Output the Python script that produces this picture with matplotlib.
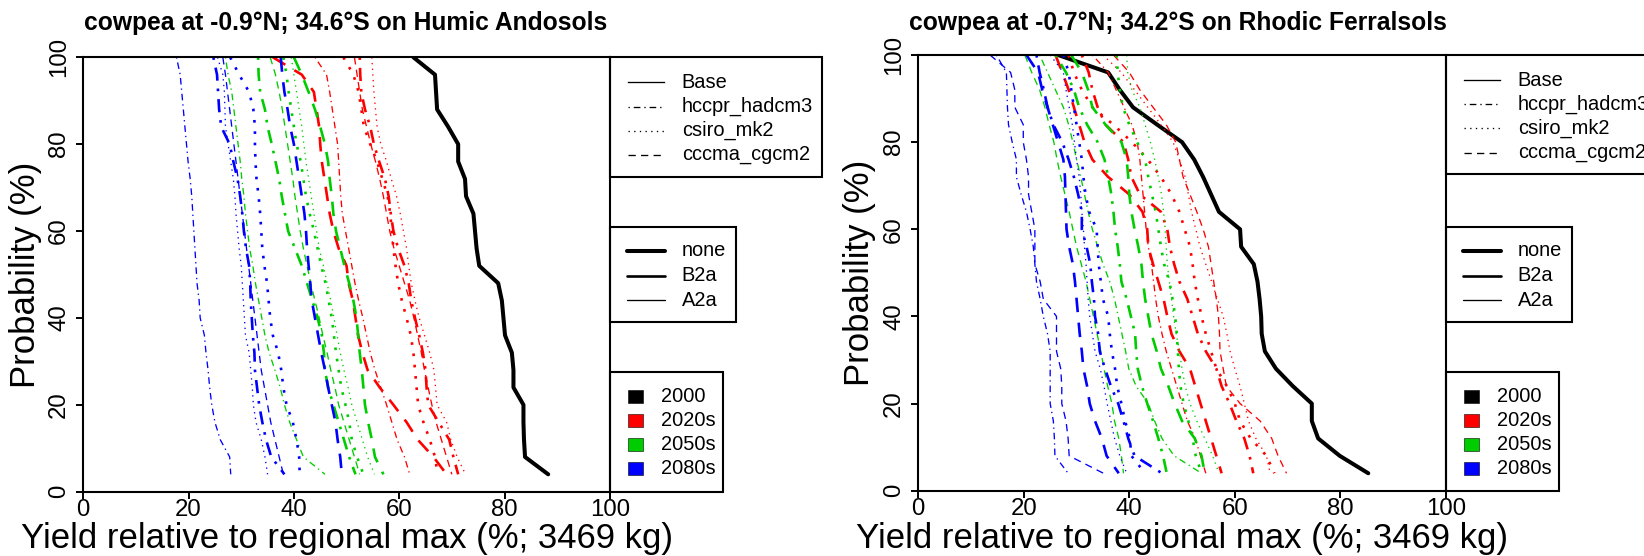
import matplotlib
matplotlib.use("Agg")
import matplotlib.pyplot as plt
from matplotlib.patches import Rectangle

plt.rcParams['font.family'] = ['Liberation Sans', 'DejaVu Sans']

# ---------------- data ----------------
probability = [100, 96, 92, 88, 84, 80, 76, 72, 68, 64, 60, 56, 52, 48, 44, 40, 36, 32, 28, 24, 20, 16, 12, 8, 4]
x_ticks = [0, 20, 40, 60, 80, 100]
y_ticks = [0, 20, 40, 60, 80, 100]
titles = ["cowpea at -0.9\u00b0N; 34.6\u00b0S on Humic Andosols",
          "cowpea at -0.7\u00b0N; 34.2\u00b0S on Rhodic Ferralsols"]
xlabel = "Yield relative to regional max (%; 3469 kg)"
ylabel = "Probability (%)"
gcm_names = ["Base", "hccpr_hadcm3", "csiro_mk2", "cccma_cgcm2"]
scenario_names = ["none", "B2a", "A2a"]
period_names = ["2000", "2020s", "2050s", "2080s"]

# Left panel: Humic Andosols
and_base = [62.7, 66.8, 67.0, 67.2, 69.3, 71.2, 71.2, 72.5, 72.7, 74.1, 74.4, 74.7, 75.2, 78.8, 79.5, 79.8, 80.1, 81.4, 81.7, 81.7, 83.6, 83.6, 83.7, 83.9, 88.3]
and_2020_B2a_had = [52.5, 52.6, 52.8, 53.5, 54.5, 55.2, 56.2, 57.3, 58.0, 58.4, 58.9, 59.8, 61.0, 61.8, 62.3, 63.0, 63.8, 64.5, 65.0, 65.2, 65.5, 67.5, 69.5, 70.3, 71.2]
and_2020_B2a_csi = [49.4, 51.3, 52.3, 52.8, 53.3, 54.5, 55.8, 56.8, 57.8, 58.3, 58.6, 58.9, 59.3, 59.8, 60.5, 61.4, 62.2, 62.7, 63.0, 63.3, 63.6, 64.6, 65.8, 66.8, 67.3]
and_2020_B2a_ccc = [36.0, 41.5, 43.8, 44.3, 44.8, 45.0, 45.3, 45.8, 46.3, 46.8, 47.5, 48.5, 50.0, 50.4, 51.2, 51.7, 52.2, 53.0, 54.0, 56.3, 58.9, 61.4, 63.5, 66.5, 69.0]
and_2020_A2a_had = [44.0, 46.2, 46.8, 47.3, 47.8, 48.3, 48.5, 48.7, 48.9, 49.2, 49.8, 50.4, 51.0, 51.6, 52.3, 53.1, 53.8, 54.5, 55.4, 56.5, 57.6, 58.6, 59.6, 61.0, 62.0]
and_2020_A2a_csi = [54.8, 55.0, 55.2, 55.5, 55.8, 56.5, 57.6, 58.5, 59.5, 60.2, 60.8, 61.4, 61.8, 62.3, 63.0, 63.8, 64.8, 65.8, 66.6, 66.9, 67.2, 69.0, 69.8, 71.0, 72.6]
and_2020_A2a_ccc = [51.5, 52.0, 52.5, 53.0, 53.8, 54.6, 55.5, 56.3, 57.0, 57.6, 58.2, 59.0, 60.0, 61.0, 62.0, 62.8, 63.5, 64.2, 64.8, 65.5, 66.2, 67.0, 68.0, 69.0, 70.0]
and_2050_B2a_had = [33.2, 33.3, 33.6, 34.5, 35.0, 35.8, 36.5, 37.2, 37.7, 38.3, 38.9, 40.2, 41.5, 42.5, 43.5, 44.5, 45.3, 45.7, 45.9, 46.5, 47.5, 48.5, 49.5, 50.5, 51.7]
and_2050_B2a_csi = [38.0, 38.6, 39.0, 39.5, 40.0, 40.5, 41.3, 41.8, 42.3, 43.0, 43.8, 44.5, 45.2, 46.0, 46.6, 47.2, 47.6, 48.0, 48.5, 49.0, 49.8, 50.5, 51.0, 52.0, 53.2]
and_2050_B2a_ccc = [40.0, 41.5, 42.8, 44.0, 45.0, 45.9, 46.5, 46.8, 47.2, 47.5, 48.0, 48.8, 49.6, 50.5, 51.3, 51.9, 52.2, 52.5, 52.9, 53.2, 53.5, 54.1, 54.8, 55.4, 57.0]
and_2050_A2a_had = [27.0, 27.5, 28.2, 28.6, 29.0, 29.4, 29.8, 30.1, 30.5, 30.8, 31.2, 31.6, 32.2, 32.7, 33.3, 33.9, 34.5, 35.3, 36.4, 37.4, 38.2, 39.2, 40.5, 41.8, 45.9]
and_2050_A2a_csi = [39.5, 40.0, 40.5, 41.0, 41.5, 41.9, 42.3, 42.8, 43.3, 43.8, 44.3, 44.8, 45.6, 46.3, 47.0, 47.6, 48.2, 48.8, 49.5, 50.3, 51.0, 52.0, 53.0, 54.0, 55.3]
and_2050_A2a_ccc = [35.5, 36.5, 37.2, 37.8, 38.3, 38.8, 39.3, 39.8, 40.2, 40.7, 41.2, 41.8, 42.5, 43.2, 44.0, 44.8, 45.5, 46.3, 47.0, 47.8, 48.5, 49.5, 50.5, 51.5, 52.5]
and_2080_B2a_had = [24.7, 25.4, 25.6, 25.8, 26.2, 27.8, 28.5, 29.3, 29.8, 30.2, 30.5, 30.9, 31.5, 31.7, 31.8, 32.0, 32.2, 32.5, 32.6, 33.0, 33.4, 34.0, 34.7, 35.7, 38.2]
and_2080_B2a_csi = [27.9, 29.6, 31.5, 32.3, 32.6, 32.6, 32.7, 32.9, 33.3, 33.6, 33.8, 34.0, 34.4, 34.9, 35.2, 35.5, 36.0, 37.0, 37.6, 38.0, 38.6, 39.8, 40.5, 41.0, 41.1]
and_2080_B2a_ccc = [37.5, 37.8, 38.2, 38.8, 39.3, 40.0, 40.5, 41.0, 41.5, 42.0, 42.3, 42.5, 42.8, 43.1, 43.4, 44.0, 44.6, 45.2, 45.9, 46.5, 47.2, 47.9, 48.3, 48.8, 49.1]
and_2080_A2a_had = [17.7, 18.4, 18.7, 19.0, 19.3, 19.6, 19.9, 20.3, 20.6, 20.8, 21.0, 21.2, 21.4, 21.6, 22.0, 22.2, 23.0, 23.3, 23.7, 24.0, 24.4, 25.0, 26.0, 27.8, 28.0]
and_2080_A2a_csi = [25.5, 26.5, 26.8, 26.9, 27.0, 27.5, 28.0, 28.5, 28.8, 29.0, 29.3, 29.6, 30.0, 30.2, 30.4, 30.6, 30.8, 31.5, 31.8, 32.1, 32.3, 32.8, 33.8, 34.5, 35.0]
and_2080_A2a_ccc = [26.5, 27.0, 27.4, 27.8, 28.2, 28.6, 29.0, 29.4, 29.8, 30.2, 30.6, 31.0, 31.4, 31.8, 32.2, 32.6, 33.0, 33.4, 33.8, 34.4, 35.0, 35.6, 36.4, 37.2, 38.0]

# Right panel: Rhodic Ferralsols
fer_base = [26.5, 36.0, 38.2, 40.7, 45.3, 50.0, 52.3, 54.0, 55.5, 57.0, 61.0, 61.2, 63.6, 64.3, 64.7, 65.0, 65.1, 65.7, 67.8, 71.0, 74.6, 74.6, 75.8, 79.9, 85.3]
fer_2020_B2a_had = [31.0, 32.3, 33.0, 34.0, 35.5, 38.9, 39.8, 40.4, 42.0, 46.0, 47.2, 47.7, 48.5, 49.5, 51.0, 52.0, 53.0, 54.5, 56.5, 57.5, 59.0, 60.3, 61.8, 62.8, 63.5]
fer_2020_B2a_csi = [28.5, 29.5, 31.0, 33.0, 37.0, 40.5, 43.5, 46.0, 48.0, 49.5, 50.5, 51.5, 52.0, 52.4, 53.0, 53.7, 54.5, 55.5, 56.5, 58.5, 60.0, 61.0, 63.0, 66.0, 67.5]
fer_2020_B2a_ccc = [26.0, 27.3, 28.5, 29.5, 30.5, 31.5, 33.0, 36.0, 40.0, 42.5, 43.4, 43.6, 44.5, 45.5, 46.5, 47.2, 48.0, 49.5, 51.5, 52.5, 53.5, 54.5, 55.5, 56.5, 57.5]
fer_2020_A2a_had = [33.0, 36.0, 37.5, 39.0, 40.5, 41.5, 42.0, 42.3, 42.6, 42.9, 43.2, 43.6, 44.2, 44.6, 45.0, 45.5, 46.2, 47.0, 48.0, 49.0, 50.0, 51.0, 52.5, 53.5, 54.5]
fer_2020_A2a_csi = [35.0, 38.5, 41.0, 43.5, 46.0, 48.3, 49.5, 50.6, 51.2, 51.8, 52.6, 53.4, 54.5, 55.6, 56.7, 57.8, 58.5, 59.1, 60.0, 61.0, 61.8, 62.6, 64.0, 66.0, 66.7]
fer_2020_A2a_ccc = [37.0, 40.0, 42.0, 44.5, 47.0, 48.8, 49.5, 50.2, 51.5, 52.8, 54.0, 55.0, 55.5, 56.0, 56.5, 56.9, 57.1, 57.2, 57.8, 58.4, 61.0, 64.8, 67.0, 68.2, 69.8]
fer_2050_B2a_had = [26.0, 28.0, 29.5, 30.5, 32.0, 34.0, 35.3, 36.0, 36.6, 37.0, 37.3, 37.8, 38.2, 38.5, 39.5, 40.3, 41.1, 41.3, 41.6, 42.4, 43.4, 44.5, 45.5, 46.4, 47.1]
fer_2050_B2a_csi = [37.6, 37.8, 38.2, 38.8, 40.0, 41.5, 43.0, 43.6, 44.3, 45.0, 45.5, 46.0, 46.6, 47.6, 48.2, 48.7, 49.0, 49.2, 49.4, 49.7, 50.3, 51.2, 52.0, 52.6, 53.7]
fer_2050_B2a_ccc = [29.0, 31.0, 32.2, 33.0, 35.5, 38.5, 39.5, 39.8, 40.0, 40.4, 41.0, 41.7, 42.3, 42.6, 43.0, 43.6, 44.2, 45.2, 46.0, 47.4, 48.6, 50.0, 52.4, 53.7, 54.3]
fer_2050_A2a_had = [23.0, 24.5, 26.0, 27.5, 28.5, 29.3, 30.0, 30.8, 31.5, 32.2, 33.0, 34.0, 35.0, 36.3, 37.2, 37.9, 38.6, 39.3, 39.9, 41.3, 43.6, 44.8, 46.2, 48.5, 53.7]
fer_2050_A2a_csi = [39.5, 39.7, 40.5, 42.0, 43.0, 44.0, 44.8, 45.5, 46.1, 46.5, 46.8, 47.0, 47.2, 47.6, 48.0, 48.4, 48.9, 49.5, 50.0, 50.6, 51.5, 52.8, 54.3, 55.8, 57.0]
fer_2050_A2a_ccc = [20.2, 21.5, 23.0, 24.0, 24.8, 25.7, 26.3, 27.0, 27.8, 28.6, 29.3, 30.0, 30.9, 31.8, 32.5, 33.2, 33.9, 34.6, 35.2, 35.9, 36.7, 37.2, 38.0, 38.5, 38.9]
fer_2080_B2a_had = [22.4, 23.0, 23.8, 24.5, 25.6, 27.3, 28.5, 29.5, 30.3, 31.0, 31.0, 31.9, 32.6, 32.9, 33.3, 33.5, 34.1, 34.4, 35.4, 36.5, 37.9, 38.9, 39.8, 41.0, 46.2]
fer_2080_B2a_csi = [27.5, 28.5, 29.0, 29.5, 30.0, 30.5, 31.0, 31.3, 31.7, 32.4, 33.8, 34.0, 34.2, 34.6, 35.0, 36.0, 36.3, 36.7, 37.3, 37.7, 38.5, 39.2, 40.1, 40.4, 43.0]
fer_2080_B2a_ccc = [20.5, 22.7, 23.5, 24.5, 25.5, 26.5, 27.5, 27.8, 27.9, 28.0, 28.1, 28.6, 29.3, 29.7, 30.0, 30.3, 30.6, 31.0, 31.3, 32.0, 32.5, 33.5, 34.8, 35.7, 38.0]
fer_2080_A2a_had = [14.8, 16.7, 16.8, 16.9, 17.1, 17.8, 18.6, 18.6, 19.5, 20.5, 21.2, 21.8, 22.1, 22.4, 23.1, 23.7, 24.5, 25.0, 25.0, 25.0, 25.0, 25.6, 25.8, 25.9, 28.4]
fer_2080_A2a_csi = [25.0, 27.5, 28.0, 28.6, 29.2, 29.6, 30.0, 30.5, 30.8, 31.0, 31.3, 31.5, 31.8, 32.0, 32.2, 32.5, 33.0, 33.5, 34.5, 35.2, 35.8, 36.5, 37.2, 38.2, 39.5]
fer_2080_A2a_ccc = [13.6, 17.5, 18.3, 18.3, 19.9, 19.9, 20.5, 20.9, 20.9, 21.5, 22.1, 22.1, 22.1, 23.1, 23.7, 26.2, 26.2, 26.2, 27.0, 27.2, 27.2, 28.0, 28.4, 28.6, 35.1]

panels = [
    [("2000", "none", "Base", and_base),
     ("2020s", "B2a", "hccpr_hadcm3", and_2020_B2a_had), ("2020s", "B2a", "csiro_mk2", and_2020_B2a_csi), ("2020s", "B2a", "cccma_cgcm2", and_2020_B2a_ccc),
     ("2020s", "A2a", "hccpr_hadcm3", and_2020_A2a_had), ("2020s", "A2a", "csiro_mk2", and_2020_A2a_csi), ("2020s", "A2a", "cccma_cgcm2", and_2020_A2a_ccc),
     ("2050s", "B2a", "hccpr_hadcm3", and_2050_B2a_had), ("2050s", "B2a", "csiro_mk2", and_2050_B2a_csi), ("2050s", "B2a", "cccma_cgcm2", and_2050_B2a_ccc),
     ("2050s", "A2a", "hccpr_hadcm3", and_2050_A2a_had), ("2050s", "A2a", "csiro_mk2", and_2050_A2a_csi), ("2050s", "A2a", "cccma_cgcm2", and_2050_A2a_ccc),
     ("2080s", "B2a", "hccpr_hadcm3", and_2080_B2a_had), ("2080s", "B2a", "csiro_mk2", and_2080_B2a_csi), ("2080s", "B2a", "cccma_cgcm2", and_2080_B2a_ccc),
     ("2080s", "A2a", "hccpr_hadcm3", and_2080_A2a_had), ("2080s", "A2a", "csiro_mk2", and_2080_A2a_csi), ("2080s", "A2a", "cccma_cgcm2", and_2080_A2a_ccc)],
    [("2000", "none", "Base", fer_base),
     ("2020s", "B2a", "hccpr_hadcm3", fer_2020_B2a_had), ("2020s", "B2a", "csiro_mk2", fer_2020_B2a_csi), ("2020s", "B2a", "cccma_cgcm2", fer_2020_B2a_ccc),
     ("2020s", "A2a", "hccpr_hadcm3", fer_2020_A2a_had), ("2020s", "A2a", "csiro_mk2", fer_2020_A2a_csi), ("2020s", "A2a", "cccma_cgcm2", fer_2020_A2a_ccc),
     ("2050s", "B2a", "hccpr_hadcm3", fer_2050_B2a_had), ("2050s", "B2a", "csiro_mk2", fer_2050_B2a_csi), ("2050s", "B2a", "cccma_cgcm2", fer_2050_B2a_ccc),
     ("2050s", "A2a", "hccpr_hadcm3", fer_2050_A2a_had), ("2050s", "A2a", "csiro_mk2", fer_2050_A2a_csi), ("2050s", "A2a", "cccma_cgcm2", fer_2050_A2a_ccc),
     ("2080s", "B2a", "hccpr_hadcm3", fer_2080_B2a_had), ("2080s", "B2a", "csiro_mk2", fer_2080_B2a_csi), ("2080s", "B2a", "cccma_cgcm2", fer_2080_B2a_ccc),
     ("2080s", "A2a", "hccpr_hadcm3", fer_2080_A2a_had), ("2080s", "A2a", "csiro_mk2", fer_2080_A2a_csi), ("2080s", "A2a", "cccma_cgcm2", fer_2080_A2a_ccc)],
]

# ---------------- styles ----------------
period_color = {"2000": "#000000", "2020s": "#FF0000", "2050s": "#00CD00", "2080s": "#0000FF"}
scenario_lw = {"none": 2.9, "B2a": 1.9, "A2a": 0.95}
gcm_dash = {"Base": None, "hccpr_hadcm3": (1, 3, 5, 3), "csiro_mk2": (1, 3.3), "cccma_cgcm2": (5.5, 4)}

W, H, DPI = 1644, 556, 100
fig = plt.figure(figsize=(W / DPI, H / DPI), dpi=DPI)

# axes rectangles in pixels: left, top, right, bottom
axes_px = [(83.3, 57.3, 609.8, 491.7), (918.3, 55.0, 1445.8, 490.7)]
ylabel_x = [25, 859]
title_x = [84, 909]

def fx(x):
    return x / W

def fy(y):
    return 1 - y / H

def linestyle_for(g):
    d = gcm_dash[g]
    return "-" if d is None else (0, d)

AX_LW = 1.5
for i, (l, t, r, b) in enumerate(axes_px):
    ax = fig.add_axes([fx(l), fy(b), fx(r) - fx(l), fy(t) - fy(b)])
    for period, scen, gcm, vals in panels[i]:
        ax.plot(vals, probability, color=period_color[period], lw=scenario_lw[scen],
                linestyle=linestyle_for(gcm), solid_joinstyle="round", solid_capstyle="round",
                dash_capstyle="butt", dash_joinstyle="round")
    ax.set_xlim(0, 100)
    ax.set_ylim(0, 100)
    ax.set_xticks(x_ticks)
    ax.set_xticklabels([str(v) for v in x_ticks])
    ax.set_yticks(y_ticks)
    ax.set_yticklabels([str(v) for v in y_ticks], rotation=90, va="center")
    ax.tick_params(direction="out", length=5, width=1.4, labelsize=17.3)
    ax.tick_params(axis="x", pad=0.5)
    ax.tick_params(axis="y", pad=4.5)
    for s in ax.spines.values():
        s.set_linewidth(AX_LW)
    fig.text(fx(title_x[i]), fy(30), titles[i], fontsize=17.7, fontweight="bold", ha="left", va="baseline")
    fig.text(fx((l + r) / 2), fy(548), xlabel, fontsize=25, ha="center", va="baseline")
    fig.text(fx(ylabel_x[i]), fy((t + b) / 2), ylabel, fontsize=25, rotation=90, ha="center", va="center")

# overlay for legends, in pixel coordinates
ov = fig.add_axes([0, 0, 1, 1], zorder=5)
ov.set_xlim(0, W)
ov.set_ylim(H, 0)
ov.axis("off")
ov.patch.set_alpha(0)

LEG_FS = 14.4
for i, (l, t, r, b) in enumerate(axes_px):
    R = r
    # box 1: GCM line types
    ov.add_patch(Rectangle((R, t), 212, 176.5 - 57.3, fill=False, lw=AX_LW, ec="black"))
    for k, g in enumerate(gcm_names):
        y = t + 25 + k * 24.2
        ov.plot([R + 18, R + 54], [y, y], color="black", lw=0.95, linestyle=linestyle_for(g), dash_capstyle="butt")
        ov.text(R + 72, y, g, fontsize=LEG_FS, va="center", ha="left")
    # box 2: scenarios line widths
    ov.add_patch(Rectangle((R, 226.7), 126, 95, fill=False, lw=AX_LW, ec="black"))
    for k, s in enumerate(scenario_names):
        y = 251 + k * 24.5
        ov.plot([R + 17, R + 55], [y, y], color="black", lw=scenario_lw[s], solid_capstyle="round")
        ov.text(R + 72, y, s, fontsize=LEG_FS, va="center", ha="left")
    # box 3: periods colours
    ov.add_patch(Rectangle((R, 372.3), 113, b - 372.3, fill=False, lw=AX_LW, ec="black"))
    for k, p in enumerate(period_names):
        y = 396.7 + k * 23.9
        ov.add_patch(Rectangle((R + 18, y - 6.5), 15, 13, facecolor=period_color[p], edgecolor="black", lw=0.4))
        ov.text(R + 51, y, p, fontsize=LEG_FS, va="center", ha="left")

fig.savefig("out.png", dpi=DPI)
